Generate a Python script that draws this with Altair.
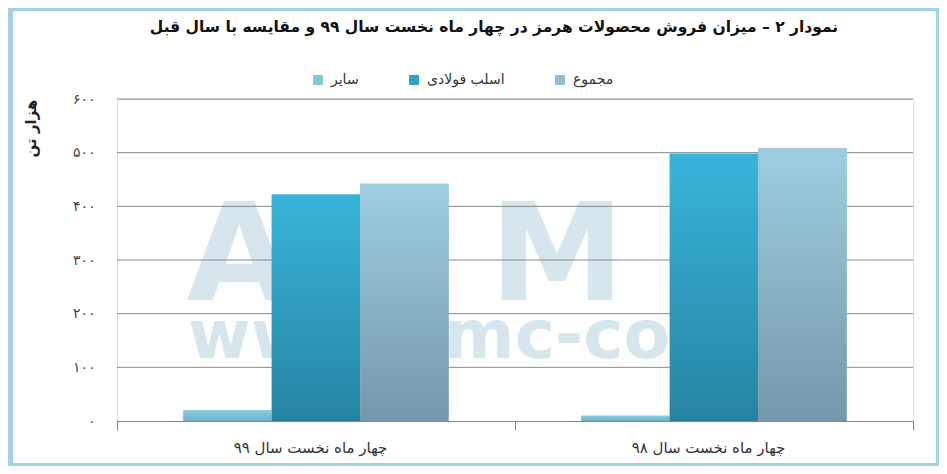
import altair as alt
import pandas as pd

# ---- data ----
periods = ["چهار ماه نخست سال ۹۹", "چهار ماه نخست سال ۹۸"]
series = ["سایر", "اسلب فولادی", "مجموع"]
other_vals = [20, 10]
slab_vals = [422, 498]
total_vals = [442, 508]
y_ticks = [0, 100, 200, 300, 400, 500, 600]
y_tick_labels = ["۰", "۱۰۰", "۲۰۰", "۳۰۰", "۴۰۰", "۵۰۰", "۶۰۰"]
title_text = "نمودار ۲ – میزان فروش محصولات هرمز در چهار ماه نخست سال ۹۹ و مقایسه با سال قبل"
y_title = "هزار تن"

rows = []
for i, p in enumerate(periods):
    for s, vals in zip(series, [other_vals, slab_vals, total_vals]):
        rows.append({"period": p, "series": s, "value": vals[i]})
df = pd.DataFrame(rows)
grid_df = pd.DataFrame({"v": [t for t in y_ticks if t > 0]})

FONT = "DejaVu Sans"
W, H = 796, 322

legend_colors = ["#86c6db", "#2fa3c6", "#94bccd"]
gradients = {
    "سایر": ("#8ccbe0", "#6fb3c9"),
    "اسلب فولادی": ("#38b4da", "#2684a2"),
    "مجموع": ("#9ecee1", "#7498a9"),
}

label_expr = ""
for t, l in zip(y_ticks, y_tick_labels):
    label_expr += f"datum.value == {t} ? '{l}' : "
label_expr += "''"

x_enc = alt.X(
    "period:N",
    sort=periods,
    scale=alt.Scale(paddingInner=0, paddingOuter=0),
    axis=alt.Axis(
        title=None,
        tickBand="extent",
        tickSize=9,
        tickColor="#888888",
        domainColor="#888888",
        labelFont=FONT,
        labelFontSize=15,
        labelColor="#333333",
        labelPadding=10,
        labelAngle=0,
        labelOffset=-6,
    ),
)
xoff_enc = alt.XOffset(
    "series:N", sort=series, scale=alt.Scale(domain=series, paddingOuter=0.75, paddingInner=0)
)
y_enc = alt.Y(
    "value:Q",
    scale=alt.Scale(domain=[0, 600], nice=False),
    axis=alt.Axis(
        values=y_ticks,
        labelExpr=label_expr,
        grid=False,
        domain=False,
        ticks=False,
        labelPadding=22,
        labelFont=FONT,
        labelFontSize=14,
        labelColor="#444444",
        title=y_title,
        titleFont=FONT,
        titleFontSize=15,
        titleFontWeight="bold",
        titleColor="#222222",
        titleAngle=270,
        titleAlign="right",
        titleBaseline="middle",
        titleX=-87,
        titleY=0,
    ),
)

one = alt.Data(values=[{}])

frame = alt.Chart(one).mark_rect(fill="transparent", stroke="#a3d2e4", strokeWidth=3).encode(
    x=alt.value(-107.5), x2=alt.value(820.5), y=alt.value(-89.5), y2=alt.value(365.5)
)
left_bar = alt.Chart(one).mark_rect(fill="#a3d2e4").encode(
    x=alt.value(-109), x2=alt.value(-104), y=alt.value(-91), y2=alt.value(367)
)

title_mark = (
    alt.Chart(one)
    .mark_text(text=title_text, font=FONT, fontWeight="bold", fontSize=15.5, color="#111111",
               align="center", baseline="middle")
    .encode(x=alt.value(377), y=alt.value(-72))
)

wm_color = "#d6e6ec"
wm_letters = []
for letter, cx in [("A", 122), ("M", 440), ("C", 688)]:
    wm_letters.append(
        alt.Chart(one)
        .mark_text(text=letter, font=FONT, fontWeight="bold", fontSize=136, color=wm_color,
                   align="center", baseline="alphabetic")
        .encode(x=alt.value(cx), y=alt.value(201))
    )
wm_url = (
    alt.Chart(one)
    .mark_text(text="www.amc-co.ir", font=FONT, fontWeight="bold", fontSize=68, color=wm_color,
               align="left", baseline="alphabetic")
    .encode(x=alt.value(71), y=alt.value(259))
)

grid = alt.Chart(grid_df).mark_rule(color="#888888", strokeWidth=1).encode(
    y=alt.Y("v:Q", scale=alt.Scale(domain=[0, 600], nice=False))
)

base_bars = alt.Chart(df).mark_bar().encode(
    x=x_enc,
    xOffset=xoff_enc,
    y=y_enc,
    color=alt.Color(
        "series:N",
        sort=series,
        scale=alt.Scale(domain=series, range=legend_colors),
        legend=alt.Legend(
            title=None,
            orient="none",
            direction="horizontal",
            legendX=194,
            legendY=-26,
            symbolType="square",
            symbolSize=100,
            symbolStrokeWidth=0,
            labelFont=FONT,
            labelFontSize=14,
            labelColor="#333333",
            columnPadding=48,
            labelOffset=6,
        ),
    ),
)

grad_layers = []
for s in series:
    top, bot = gradients[s]
    grad = alt.LinearGradient(
        gradient="linear",
        stops=[alt.GradientStop(color=top, offset=0), alt.GradientStop(color=bot, offset=1)],
        x1=0, x2=0, y1=0, y2=1,
    )
    grad_layers.append(
        alt.Chart(df)
        .transform_filter(alt.datum.series == s)
        .mark_bar(color=grad)
        .encode(x=alt.X("period:N", sort=periods), xOffset=alt.XOffset("series:N", sort=series),
                y=alt.Y("value:Q"))
    )

chart = alt.layer(
    left_bar, frame, title_mark, *wm_letters, wm_url, grid, base_bars, *grad_layers
).properties(
    width=W,
    height=H,
    autosize=alt.AutoSizeParams(type="none"),
    padding={"left": 109, "top": 91, "right": 26, "bottom": 45},
).configure_view(stroke=None).configure(background="white")

chart.save("out.html", embed_options={"renderer": "svg", "actions": False})
